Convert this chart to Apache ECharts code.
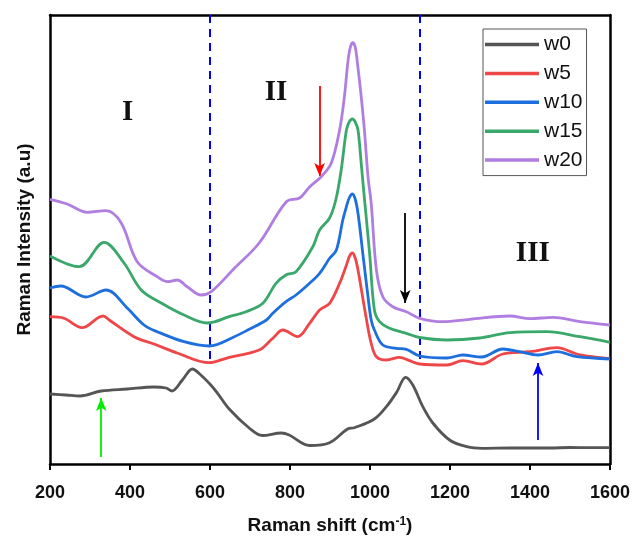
<!DOCTYPE html>
<html><head><meta charset="utf-8">
<script src="https://cdn.jsdelivr.net/npm/echarts@6/dist/echarts.min.js"></script>
<style>html,body{margin:0;padding:0;background:#fff}#c{width:632px;height:539px}</style>
</head><body><div id="c"></div>
<script>
// ---- data (Raman shift in cm-1, intensity in arbitrary units) ----
const seriesNames = ['w0', 'w5', 'w10', 'w15', 'w20'];

const w0X = [200, 240, 275, 328, 393, 460, 490, 505, 531, 556, 577, 602, 619, 648, 698, 731, 778, 798, 849, 899, 944, 961, 1011, 1041, 1067, 1089, 1107, 1132, 1157, 1199, 1242, 1282, 1350, 1400, 1450, 1500, 1550, 1600];
const w0Y = [70, 69, 68, 73, 75, 77, 76, 73, 84, 95, 89, 79, 70.7, 55, 36, 28.5, 31, 29, 18.5, 21.3, 35, 36.3, 45, 57.3, 72, 86.7, 79, 57.3, 41, 24, 17.3, 15.7, 16, 16, 16, 16.5, 16.3, 16.3];

const w5X = [200, 235, 280, 333, 348, 410, 460, 518, 598, 648, 723, 757, 782, 819, 849, 874, 899, 924, 942, 949, 956, 963, 970, 990, 1003, 1016, 1041, 1074, 1099, 1124, 1192, 1232, 1279, 1332, 1400, 1467, 1517, 1560, 1600];
const w5Y = [147.3, 145.7, 136.3, 148, 144, 127.3, 120, 111, 101.3, 106.7, 114, 125.7, 134, 127.3, 140.7, 154, 160.7, 180.7, 200, 208, 211, 206, 194, 147.3, 120.7, 107.3, 104, 106.7, 103.3, 100, 99, 103.3, 100, 110, 112.3, 116.3, 110, 107, 105.3];

const w10X = [200, 227, 290, 340, 393, 435, 468, 535, 598, 661, 698, 741, 757, 790, 815, 849, 874, 899, 916, 932, 941, 948, 956, 963, 970, 982, 995, 1003, 1011, 1032, 1066, 1091, 1124, 1192, 1232, 1279, 1332, 1374, 1420, 1467, 1517, 1600];
const w10Y = [176, 178, 167, 174, 156, 139, 132.3, 122.3, 118, 127.3, 134.7, 144, 150.7, 162.3, 169, 180.7, 190.7, 205.7, 214, 244, 257.3, 266, 270, 265, 250.7, 210.7, 167.3, 144, 134, 119, 115.7, 114.7, 108, 106, 109, 107, 115, 112.3, 109, 112.3, 107.3, 105];

const w15X = [200, 273, 335, 385, 428, 478, 535, 593, 648, 690, 732, 765, 790, 815, 857, 874, 899, 915, 928, 941, 948, 956, 963, 970, 978, 985, 999, 1011, 1024, 1049, 1091, 1124, 1192, 1274, 1350, 1442, 1525, 1600];
const w15Y = [208, 197.3, 221.7, 201, 174, 161, 149, 141, 147.3, 152.3, 160.7, 180.7, 189, 192.3, 217.3, 234, 246, 265, 294, 334, 342, 345, 342, 334, 300.7, 270, 210.7, 154, 142.3, 135.7, 130.7, 126.5, 124, 126, 131.3, 132.3, 127.3, 121.7];

const w20X = [200, 243, 293, 340, 378, 418, 468, 494, 518, 543, 578, 603, 661, 723, 791, 824, 849, 878, 903, 924, 936, 945, 951, 957, 963, 968, 978, 986, 995, 1003, 1016, 1032, 1057, 1091, 1124, 1182, 1249, 1350, 1400, 1457, 1525, 1600];
const w20Y = [264.7, 260, 251.7, 253.3, 241, 202.3, 187.3, 182.3, 184, 177.3, 169, 172.3, 195.7, 221, 262.3, 266, 277, 287.3, 300.7, 334, 367.3, 403, 417, 421.3, 417, 403, 367.3, 334, 287.3, 260.7, 194, 167.3, 157.3, 152.3, 145.7, 142.3, 144.7, 148, 145.3, 146.7, 142.3, 139];

const xTickValues = [200, 400, 600, 800, 1000, 1200, 1400, 1600];

// region boundaries and labels (data coordinates)
const regionBoundaries = [600, 1124];
const regionBoundaryTop = 449;
const regionBoundaryBottom = 101;
const regionLabels = ['I', 'II', 'III'];
const regionLabelX = [394, 765, 1407];
const regionLabelY = [351, 371.5, 210];

// annotation arrows (data coordinates): x, start intensity, end intensity
const arrowX = [874, 1088, 328, 1420];
const arrowFrom = [378, 251, 7, 24];
const arrowTo = [288, 161, 66, 101];

// ---- styles ----
const lineColors = ['#555555', '#ef4648', '#1c6fdc', '#3aa86a', '#b07ee0'];
const arrowColors = ['#ff0000', '#000000', '#00ee00', '#0000ff'];
const FONT = '"Liberation Sans", Arial, sans-serif';

const xs = [w0X, w5X, w10X, w15X, w20X];
const ys = [w0Y, w5Y, w10Y, w15Y, w20Y];

const series = seriesNames.map((n, i) => ({
  name: n,
  type: 'line',
  data: xs[i].map((x, j) => [x, ys[i][j]]),
  smooth: 0.35,
  showSymbol: false,
  symbol: 'none',
  lineStyle: { width: 2.8, color: lineColors[i] },
  itemStyle: { color: lineColors[i] },
  z: 3 + i
}));

// helper series carrying annotations
const markLines = [];
regionBoundaries.forEach(x => {
  markLines.push([
    { coord: [x, regionBoundaryTop], symbol: 'none', lineStyle: { color: '#0000ff', width: 2, type: [8, 6] } },
    { coord: [x, regionBoundaryBottom], symbol: 'none' }
  ]);
});
arrowX.forEach((x, i) => {
  markLines.push([
    { coord: [x, arrowFrom[i]], symbol: 'none', lineStyle: { color: arrowColors[i], width: 1.8, type: 'solid' }, itemStyle: { color: arrowColors[i] } },
    { coord: [x, arrowTo[i]], symbol: 'arrow', symbolSize: [8, 13], itemStyle: { color: arrowColors[i] } }
  ]);
});

series.push({
  name: 'annotations',
  type: 'line',
  data: [],
  symbol: 'none',
  z: 10,
  markLine: {
    silent: true,
    animation: false,
    label: { show: false },
    symbol: ['none', 'none'],
    data: markLines
  },
  markPoint: {
    silent: true,
    animation: false,
    symbol: 'circle',
    symbolSize: 0,
    data: regionLabels.map((t, i) => ({
      coord: [regionLabelX[i], regionLabelY[i]],
      label: {
        show: true, position: 'inside', formatter: t,
        fontFamily: '"Liberation Serif", "Times New Roman", serif',
        fontWeight: 'bold', fontSize: 29, color: '#111'
      }
    }))
  }
});

const chart = echarts.init(document.getElementById('c'), null, { renderer: 'canvas' });
chart.setOption({
  animation: false,
  backgroundColor: '#fff',
  grid: { left: 50, right: 22, top: 15, bottom: 75, containLabel: false, outerBoundsMode: 'none' },
  legend: {
    data: seriesNames,
    orient: 'vertical',
    left: 483, top: 29,
    icon: 'rect',
    itemWidth: 54, itemHeight: 3.5,
    itemGap: 7.9,
    padding: [5, 4, 5, 2],
    borderColor: '#555', borderWidth: 1,
    textStyle: { fontFamily: FONT, fontSize: 21, color: '#111', padding: [0, 0, 0, 0] }
  },
  xAxis: [{
    type: 'value', min: 200, max: 1600, interval: 200,
    name: 'Raman shift (cm{sup|-1})',
    nameLocation: 'middle', nameGap: 52,
    nameTextStyle: {
      fontFamily: FONT, fontSize: 19, fontWeight: 'bold', color: '#111',
      rich: { sup: { fontFamily: FONT, fontSize: 12, fontWeight: 'bold', verticalAlign: 'top', color: '#111' } }
    },
    axisLine: { show: true, lineStyle: { color: '#000', width: 2.5 } },
    axisTick: { show: true, inside: false, length: 6, lineStyle: { color: '#000', width: 2 } },
    axisLabel: {
      fontFamily: FONT, fontSize: 18, fontWeight: 'bold', color: '#111', margin: 20,
      formatter: v => String(v)
    },
    splitLine: { show: false }
  }, {
    type: 'value', min: 200, max: 1600, position: 'top',
    axisLine: { show: true, onZero: false, lineStyle: { color: '#000', width: 2.5 } },
    axisTick: { show: false }, axisLabel: { show: false }, splitLine: { show: false }
  }],
  yAxis: [{
    type: 'value', min: 0, max: 449,
    name: 'Raman Intensity (a.u)',
    nameLocation: 'middle', nameGap: 16,
    nameTextStyle: { fontFamily: FONT, fontSize: 19, fontWeight: 'bold', color: '#111' },
    axisLine: { show: true, lineStyle: { color: '#000', width: 2.5 } },
    axisTick: { show: false }, axisLabel: { show: false }, splitLine: { show: false }
  }, {
    type: 'value', min: 0, max: 449, position: 'right',
    axisLine: { show: true, onZero: false, lineStyle: { color: '#000', width: 2.5 } },
    axisTick: { show: false }, axisLabel: { show: false }, splitLine: { show: false }
  }],
  series: series
});
</script>
</body></html>
